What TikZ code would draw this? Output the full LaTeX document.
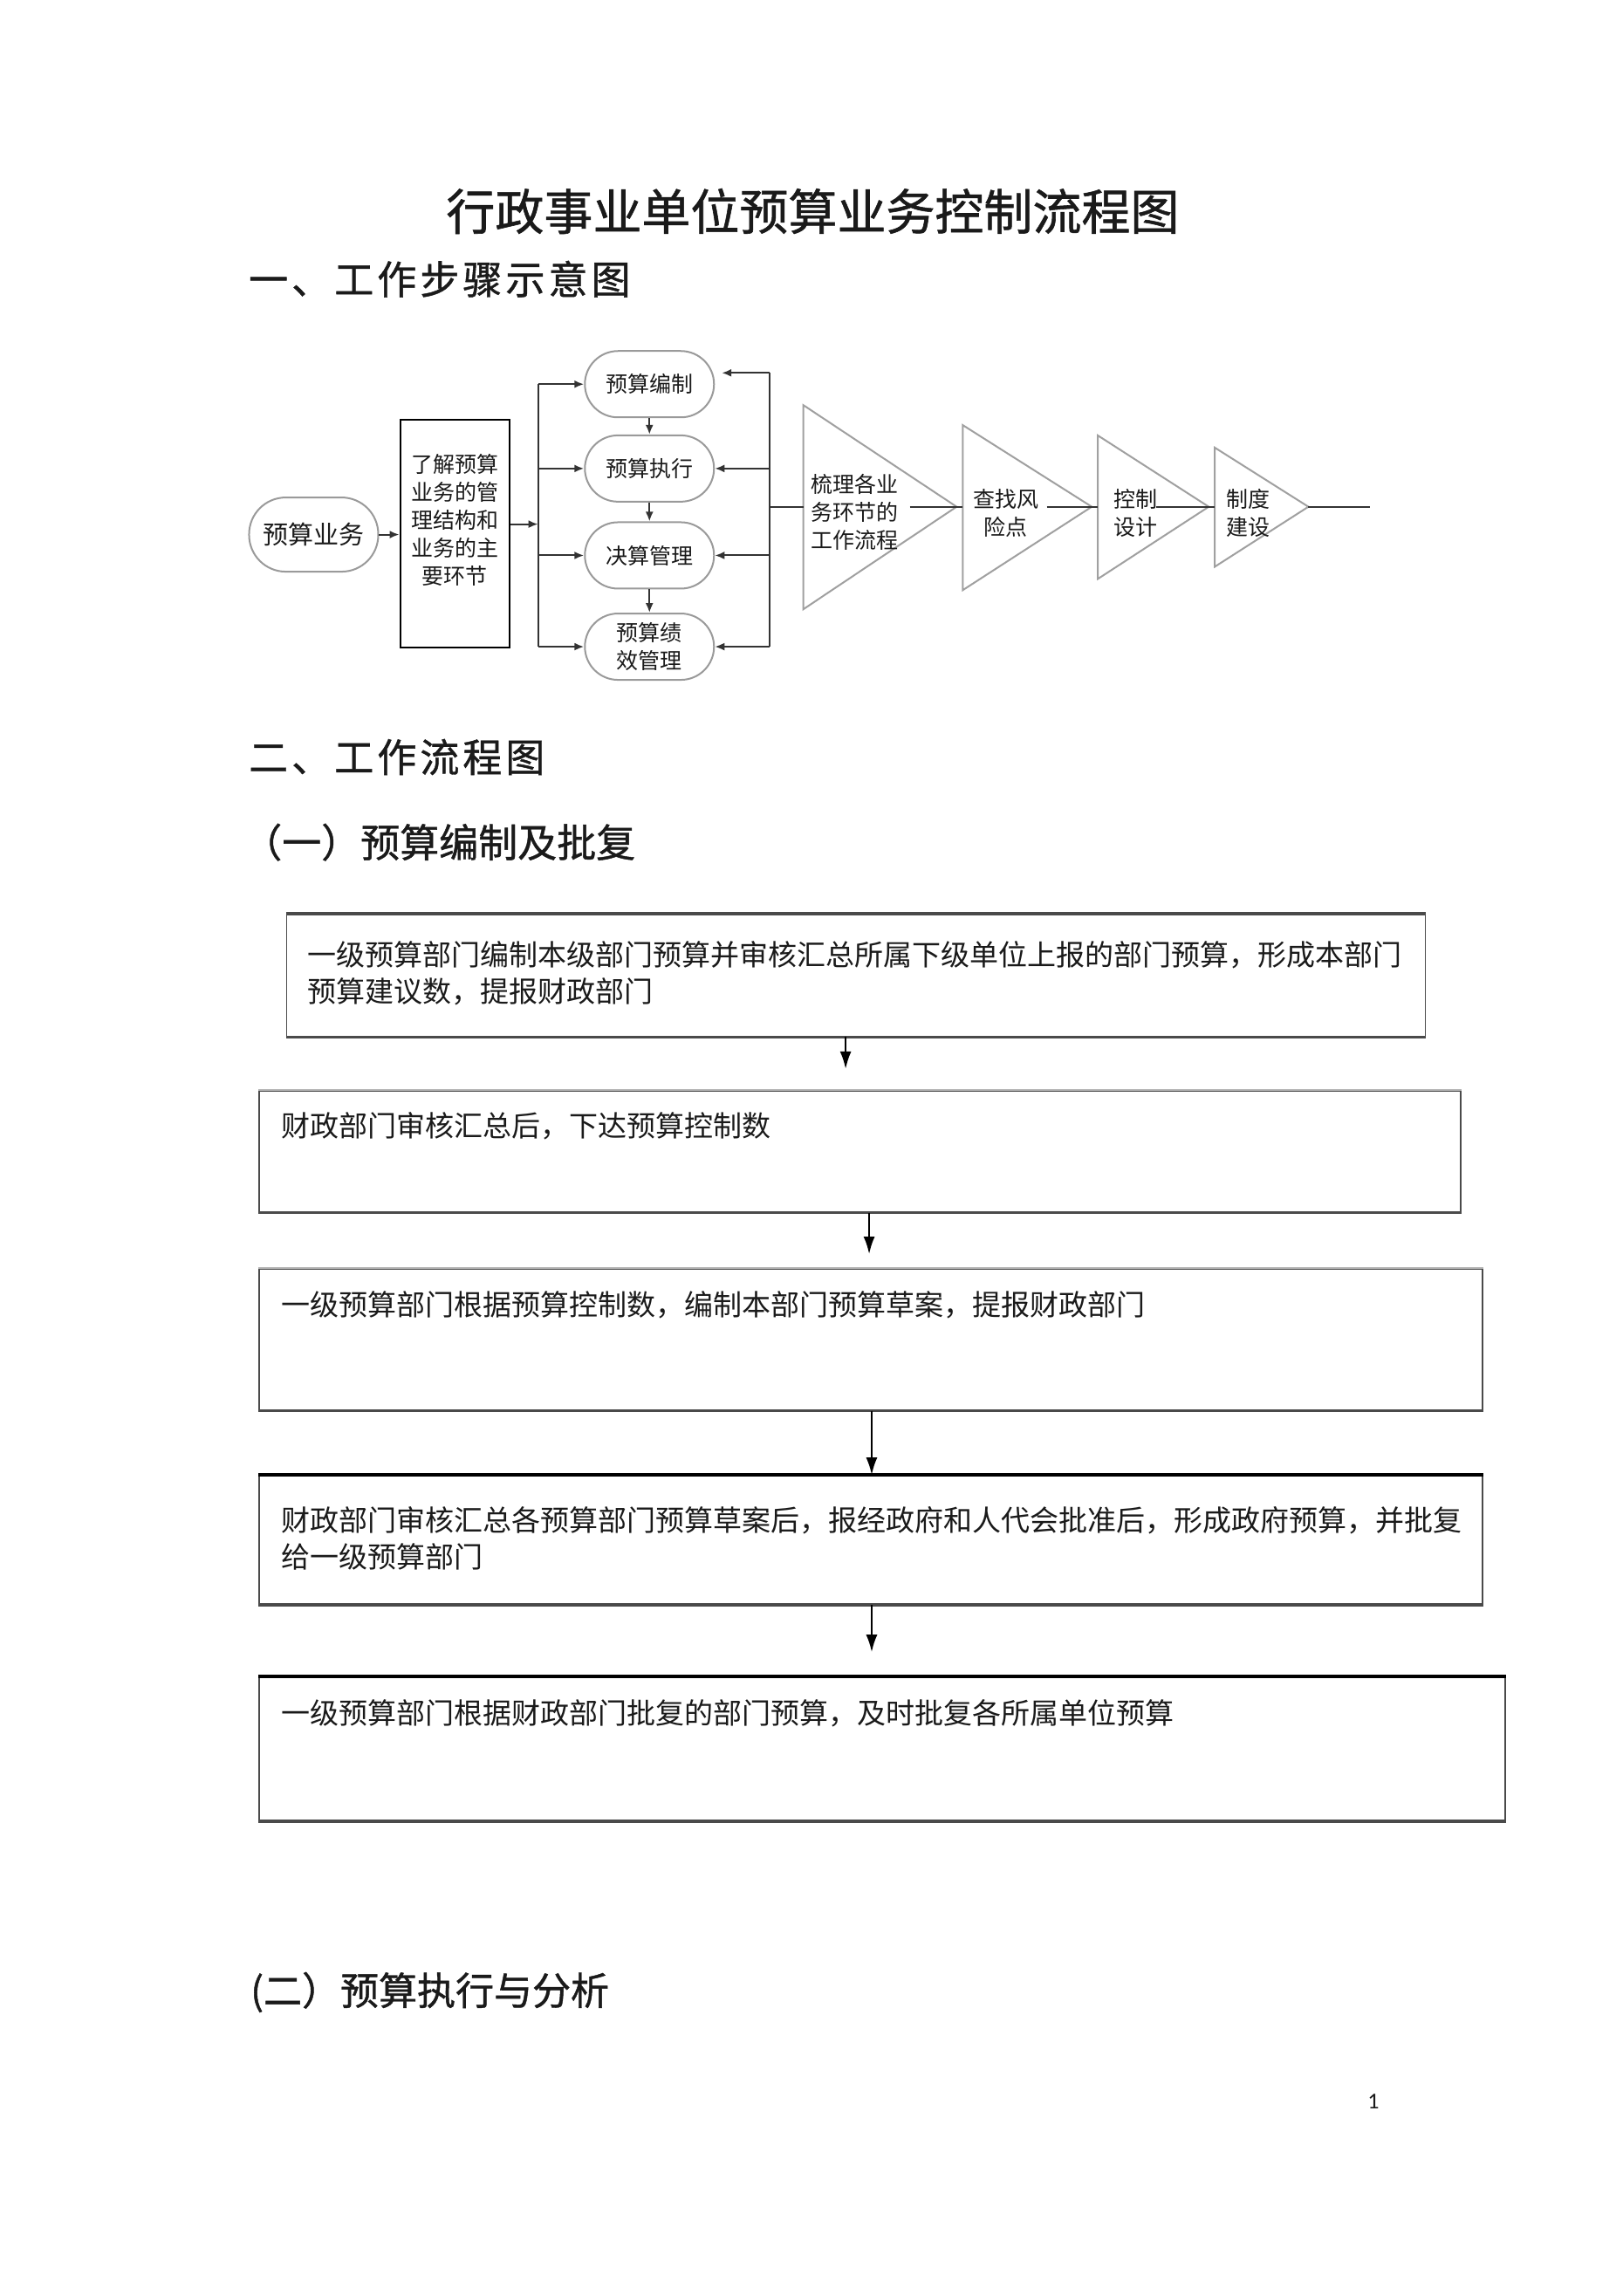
\documentclass[tikz,border=0pt]{standalone}
\usepackage{fontspec}
\setmainfont{Carlito}
\newfontfamily\cjk{Noto Sans CJK SC}
\newfontfamily\cjkh{Noto Sans CJK SC}[FakeBold=1]
\newfontfamily\cjksp{Noto Sans CJK SC}[LetterSpace=9,FakeBold=1]
\usetikzlibrary{arrows.meta}
\definecolor{ink}{HTML}{1A1A1A}
\definecolor{linec}{HTML}{333333}
\definecolor{pillc}{HTML}{9A9A9A}
\definecolor{tric}{HTML}{A0A0A0}
\definecolor{boxc}{HTML}{4A4A4A}
\definecolor{lightc}{HTML}{B5B5B5}
\newcommand{\fsz}[2]{\fontsize{#1pt}{#2pt}\selectfont}
\tikzset{
  txt/.style={inner sep=0pt, text=ink, align=left},
  pill/.style={draw=pillc, line width=2pt, rounded corners=38pt, minimum width=148pt,
    minimum height=76pt, inner sep=0pt, fill=white, text=ink,
    font=\cjk\fsz{25}{32}, align=center},
  rectbox/.style={draw=black, line width=2.4pt, minimum width=125pt, minimum height=261pt, inner sep=0pt},
  conn/.style={draw=linec, line width=2pt, -{Latex[length=11pt,width=9pt]}},
  plain/.style={draw=linec, line width=2pt},
  tri/.style={draw=tric, line width=2pt, fill=white, line join=miter},
  flowbox/.style={draw=boxc, line width=1.6pt, inner sep=0pt},
  big/.style={draw=black, line width=2.2pt, -{Latex[length=20pt,width=13pt]}},
  shadowline/.style={draw=boxc, line width=3.5pt},
}
\begin{document}
\begin{tikzpicture}[x=0.993pt,y=-0.996pt]
\fill[white] (0,0) rectangle (1873,2641);
\path[use as bounding box] (0,0) rectangle (1873,2641.5);

% ---------- headings ----------
\node[txt, font=\cjkh\fsz{56}{60}] (title) at (938,243) {行政事业单位预算业务控制流程图};
\node[txt, anchor=west, font=\cjksp\fsz{45}{50}] (h1) at (287,321) {一、工作步骤示意图};
\node[txt, anchor=west, font=\cjksp\fsz{45}{50}] (h2) at (287,871) {二、工作流程图};
\node[txt, anchor=west, font=\cjkh\fsz{45}{50}] (h21) at (280,969) {（一）预算编制及批复};
\node[txt, anchor=west, font=\cjkh\fsz{44}{50}] (h22) at (289,2292) {(二）预算执行与分析};
\node[txt, font=\fsz{26}{30}] (pg) at (1585,2418) {1};

% ---------- top flowchart ----------
\node[pill, minimum height=85pt, rounded corners=42pt, font=\cjk\fsz{29}{34}] (ys) at (362,615) {预算业务};
\node[rectbox] (lj) at (525,614) {};
\node[txt, align=center, font=\cjk\fsz{25}{32}] (ljt) at (525,598) {了解预算\\业务的管\\理结构和\\业务的主\\要环节};

\node[pill] (b1) at (749.5,442) {预算编制};
\node[pill] (b2) at (749.5,539) {预算执行};
\node[pill] (b3) at (749.5,639) {决算管理};
\node[pill] (b4) at (749.5,744) {预算绩\\效管理};

\draw[conn] (ys.east) -- (lj.west |- ys.east);
\coordinate (lvm) at (621,603);
\coordinate (lvt) at (621,442);
\coordinate (lvb) at (621,744);
\draw[conn] (lj.east |- lvm) -- (lvm);
\draw[plain] (lvt) -- (lvb);
\draw[conn] (lvt) -- (b1.west);
\draw[conn] (lvt |- b2.west) -- (b2.west);
\draw[conn] (lvt |- b3.west) -- (b3.west);
\draw[conn] (lvb) -- (b4.west);

\draw[conn] (b1.south) -- (b2.north);
\draw[conn] (b2.south) -- (b3.north);
\draw[conn] (b3.south) -- (b4.north);

\coordinate (rvt) at (888,429);
\coordinate (rvb) at (888,744);
\coordinate (rvm) at (888,583);
\coordinate (b1r) at (833,429);
\draw[plain] (rvt) -- (rvb);
\draw[conn] (rvt) -- (b1r);
\draw[conn] (rvt |- b2.east) -- (b2.east);
\draw[conn] (rvt |- b3.east) -- (b3.east);
\draw[conn] (rvb) -- (b4.east);

% triangles
\coordinate (t1w) at (927,583); \coordinate (t1e) at (1104,583);
\coordinate (t2w) at (1111,583); \coordinate (t2e) at (1260,583);
\coordinate (t3w) at (1267,583); \coordinate (t3e) at (1395,583);
\coordinate (t4w) at (1402,583); \coordinate (t4e) at (1510,583);
\coordinate (lineend) at (1581,583);
\draw[tri] (927,466) -- (t1e) -- (927,701) -- cycle;
\draw[tri] (1111,489) -- (t2e) -- (1111,679) -- cycle;
\draw[tri] (1267,501) -- (t3e) -- (1267,666) -- cycle;
\draw[tri] (1402,515) -- (t4e) -- (1402,652) -- cycle;

\draw[plain] (rvm) -- (t1w);
\draw[plain] (t1e) -- (t2w);
\draw[plain] (t2e) -- (t3w);
\draw[plain] (t3e) -- (t4w);
\draw[plain] (t4e) -- (lineend);
\coordinate (t1in) at (1050,583);
\coordinate (t2in) at (1208,583);
\coordinate (t3in) at (1334,583);
\draw[plain] (t1in) -- (t1e);
\draw[plain] (t2in) -- (t2e);
\draw[plain] (t3in) -- (t3e);

\node[txt, anchor=west, font=\cjk\fsz{25}{32}] (tt1) at (936,589) {梳理各业\\务环节的\\工作流程};
\node[txt, align=center, font=\cjk\fsz{25}{32}] (tt2) at (1161,590) {查找风\\险点};
\node[txt, align=center, font=\cjk\fsz{25}{32}] (tt3) at (1311,590) {控制\\设计};
\node[txt, align=center, font=\cjk\fsz{25}{32}] (tt4) at (1441,590) {制度\\建设};

% ---------- lower flowchart ----------
\node[flowbox, minimum width=1305pt, minimum height=140pt] (f1) at (988,1122) {};
\node[flowbox, minimum width=1377pt, minimum height=139pt] (f2) at (992.5,1324.5) {};
\node[flowbox, minimum width=1402pt, minimum height=162pt] (f3) at (1005,1541) {};
\node[flowbox, minimum width=1402pt, minimum height=147pt] (f4) at (1005,1771.5) {};
\node[flowbox, minimum width=1428pt, minimum height=164pt] (f5) at (1018,2012) {};

% border accents
\draw[shadowline] (f1.south west) -- (f1.south east);
\draw[shadowline] (f2.south west) -- (f2.south east);
\draw[shadowline] (f3.south west) -- (f3.south east);
\draw[shadowline] (f4.south west) -- (f4.south east);
\draw[shadowline] (f5.south west) -- (f5.south east);
\draw[shadowline] (f1.north west) -- (f1.north east);
\draw[draw=lightc, line width=1.6pt] (f2.north west) -- (f2.north east);
\draw[draw=lightc, line width=1.6pt] (f3.north west) -- (f3.north east);
\draw[draw=black, line width=3.5pt] (f4.north west) -- (f4.north east);
\draw[draw=black, line width=4.5pt] (f5.north west) -- (f5.north east);

\node[txt, anchor=west, font=\cjk\fsz{33}{42}] (f1t) at (355,1120) {一级预算部门编制本级部门预算并审核汇总所属下级单位上报的部门预算，形成本部门\\预算建议数，提报财政部门};
\node[txt, anchor=west, font=\cjk\fsz{33}{42}] (f2t) at (325,1295) {财政部门审核汇总后，下达预算控制数};
\node[txt, anchor=west, font=\cjk\fsz{33}{42}] (f3t) at (325,1501) {一级预算部门根据预算控制数，编制本部门预算草案，提报财政部门};
\node[txt, anchor=west, font=\cjk\fsz{33}{42}] (f4t) at (325,1770) {财政部门审核汇总各预算部门预算草案后，报经政府和人代会批准后，形成政府预算，并批复\\给一级预算部门};
\node[txt, anchor=west, font=\cjk\fsz{33}{42}] (f5t) at (325,1971) {一级预算部门根据财政部门批复的部门预算，及时批复各所属单位预算};

\draw[big, shorten >=24pt] ([xshift=-12pt]f1.south) -- ([xshift=-12pt]f1.south |- f2.north);
\draw[big, shorten >=16pt] ([xshift=10.5pt]f2.south) -- ([xshift=10.5pt]f2.south |- f3.north);
\draw[big] ([xshift=1pt]f3.south) -- ([xshift=1pt]f3.south |- f4.north);
\draw[big, shorten >=28pt] ([xshift=1pt]f4.south) -- ([xshift=1pt]f4.south |- f5.north);
\end{tikzpicture}
\end{document}
